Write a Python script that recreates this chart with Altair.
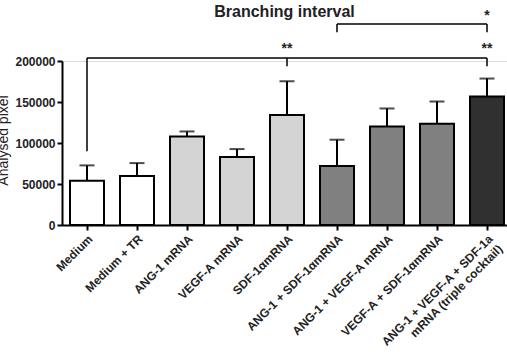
import altair as alt
import pandas as pd

TRIPLE = "ANG-1 + VEGF-A + SDF-1a\nmRNA (triple cocktail)"

categories = [
    "Medium",
    "Medium + TR",
    "ANG-1 mRNA",
    "VEGF-A mRNA",
    "SDF-1αmRNA",
    "ANG-1 + SDF-1αmRNA",
    "ANG-1 + VEGF-A mRNA",
    "VEGF-A + SDF-1αmRNA",
    TRIPLE,
]
means = [54100, 59700, 108000, 82800, 134000, 71900, 120200, 123500, 156700]
upper = [72700, 75500, 114100, 92600, 175300, 104000, 142100, 150600, 178600]
fills = ["#ffffff", "#ffffff", "#d4d4d4", "#d4d4d4", "#d4d4d4",
         "#808080", "#808080", "#808080", "#303030"]

# significance brackets: vertical legs and horizontal spans
leg_groups = ["Medium", "SDF-1αmRNA", TRIPLE, "ANG-1 + SDF-1αmRNA", TRIPLE]
leg_low = [89800, 193500, 193500, 235000, 235000]
leg_high = [203800, 203800, 203800, 245100, 245100]
span_from = ["Medium", "ANG-1 + SDF-1αmRNA"]
span_to = [TRIPLE, TRIPLE]
span_level = [203800, 245100]
star_groups = ["SDF-1αmRNA", TRIPLE, TRIPLE]
star_level = [210200, 210200, 250400]
star_text = ["**", "**", "*"]

bars_df = pd.DataFrame({"group": categories, "mean": means, "upper": upper, "fill": fills})
legs_df = pd.DataFrame({"group": leg_groups, "lo": leg_low, "hi": leg_high})
spans_df = pd.DataFrame({"g0": span_from, "g1": span_to, "level": span_level})
stars_df = pd.DataFrame({"group": star_groups, "level": star_level, "txt": star_text})

FONT = "Liberation Sans"

x_scale = alt.Scale(domain=categories, range=[0, 450], paddingInner=0.32, paddingOuter=0.16)
y_scale = alt.Scale(domain=[0, 200000], nice=False)

x_axis = alt.Axis(
    title=None, labelAngle=-45, labelAlign="right", labelBaseline="top",
    labelExpr="split(datum.label, '\\n')", labelPadding=3, labelLimit=300,
    labelFontSize=12, labelFontWeight="bold", labelFont=FONT, labelColor="#222222",
    domainColor="black", domainWidth=2, tickColor="black", tickWidth=2, tickSize=5,
)
y_axis = alt.Axis(
    title="Analysed pixel", values=[0, 50000, 100000, 150000, 200000], format="d",
    labelFontSize=12, labelFontWeight="bold", labelFont=FONT, labelColor="#222222",
    labelPadding=2, grid=False,
    domainColor="black", domainWidth=2, tickColor="black", tickWidth=2, tickSize=5,
    titleFont=FONT, titleFontSize=14, titleFontWeight="normal", titleColor="#222222",
    titleAngle=-90, titleX=-55, titleY=79, titleAlign="center", titleBaseline="alphabetic",
)

base = alt.Chart(bars_df)

bars = base.mark_bar(stroke="black", strokeWidth=2).encode(
    x=alt.X("group:N", scale=x_scale, sort=None, axis=x_axis),
    y=alt.Y("mean:Q", scale=y_scale, axis=y_axis),
    color=alt.Color("fill:N", scale=None),
)
err_line = base.mark_rule(color="black", strokeWidth=2).encode(
    x=alt.X("group:N", scale=x_scale, sort=None),
    y=alt.Y("mean:Q", scale=y_scale),
    y2="upper:Q",
)
err_cap = base.mark_tick(color="black", orient="horizontal", size=15, thickness=2).encode(
    x=alt.X("group:N", scale=x_scale, sort=None),
    y=alt.Y("upper:Q", scale=y_scale),
)
legs = alt.Chart(legs_df).mark_rule(color="black", strokeWidth=1.5).encode(
    x=alt.X("group:N", scale=x_scale, sort=None),
    y=alt.Y("lo:Q", scale=y_scale),
    y2="hi:Q",
)
spans = alt.Chart(spans_df).mark_rule(color="black", strokeWidth=1.5).encode(
    x=alt.X("g0:N", scale=x_scale, sort=None),
    x2="g1:N",
    y=alt.Y("level:Q", scale=y_scale),
)
stars = alt.Chart(stars_df).mark_text(
    font=FONT, fontSize=14, fontWeight="bold", color="#222222", baseline="alphabetic"
).encode(
    x=alt.X("group:N", scale=x_scale, sort=None),
    y=alt.Y("level:Q", scale=y_scale),
    text="txt:N",
)

chart = alt.layer(bars, err_line, err_cap, legs, spans, stars).properties(
    width=445,
    height=164,
    autosize=alt.AutoSizeParams(type="none"),
    padding={"left": 62, "top": 61, "right": 0, "bottom": 133},
    title=alt.Title("Branching interval", font=FONT, fontSize=16, fontWeight="bold",
                    color="#222222", anchor="middle", offset=0, dy=11),
).configure_view(stroke=None).configure(background="white")

chart.save("out.html", embed_options={"renderer": "svg", "actions": False})
